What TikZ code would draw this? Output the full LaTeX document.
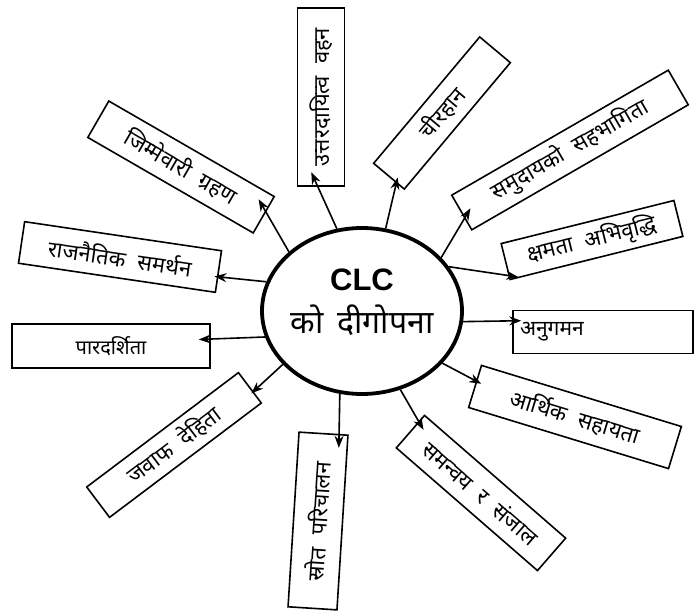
\documentclass[tikz,border=0pt]{standalone}
\usepackage{fontspec}
\setmainfont{Liberation Sans}
\newfontfamily\dev[Script=Devanagari]{Noto Sans}
\usetikzlibrary{arrows.meta,shapes.geometric}
\newcommand\wgap{\hspace{12pt}}
\begin{document}
\begin{tikzpicture}[x=1pt,y=1pt,
  lbl/.style={draw, line width=1.6pt, inner sep=0pt, font=\dev\fontsize{22}{22}\selectfont},
  arr/.style={-{Stealth[length=12pt,width=9pt]}, line width=1.6pt},
  hub/.style={draw, ellipse, line width=3.8pt, minimum width=200pt, minimum height=166pt, inner sep=0pt}
]
\useasboundingbox (0,0) rectangle (695,-615);
\fill[white] (0,0) rectangle (695,-615);

\node[hub] (e) at (362,-311) {};
\node[font=\bfseries\fontsize{31}{31}\selectfont] (t1) at (362,-280) {CLC};
\node[font=\dev\fontsize{32}{32}\selectfont] (t2) at (362,-320) {को\hspace{6pt} दीगोपना};

\node[lbl, minimum width=178pt, minimum height=47pt, rotate=90] (b1) at (321,-97) {उत्तरदायित्व\wgap वहन};
\node[lbl, minimum width=165pt, minimum height=40pt, rotate=50] (b2) at (442,-113) {चीरहान};
\node[lbl, minimum width=250pt, minimum height=40pt, rotate=30] (b3) at (570,-150) {समुदायको\wgap सहभागिता};
\node[lbl, minimum width=178pt, minimum height=37pt, rotate=14] (b4) at (592,-240) {क्षमता\wgap अभिवृद्धि};
\node[lbl, font=\dev\fontsize{21}{21}\selectfont, minimum height=43pt, text width=166pt, align=left, inner xsep=7pt] (b5) at (603,-332) {अनुगमन};
\node[lbl, minimum width=209pt, minimum height=44pt, rotate=-17] (b6) at (575,-417) {आर्थिक\wgap सहायता};
\node[lbl, minimum width=187pt, minimum height=43pt, rotate=-41] (b7) at (481,-493) {समन्वय\wgap र\wgap संजाल};
\node[lbl, minimum width=175pt, minimum height=49pt, rotate=86.4] (b8) at (318,-521) {स्रोत\wgap परिचालन};
\node[lbl, minimum width=190pt, minimum height=38pt, rotate=37] (b9) at (174,-445) {जवाफ\wgap देहिता};
\node[lbl, font=\dev\fontsize{20}{20}\selectfont, minimum width=198pt, minimum height=44pt] (b10) at (111,-346) {पारदर्शिता};
\node[lbl, minimum width=199pt, minimum height=42pt, rotate=-8.4] (b11) at (120,-257) {राजनैतिक\wgap समर्थन};
\node[lbl, minimum width=191pt, minimum height=42pt, rotate=-30] (b12) at (181,-167) {जिम्मेवारी\wgap ग्रहण};

\draw[arr, shorten >=-16pt] (e.107) -- (b1.178.7);
\draw[arr, shorten >=-6pt] (e.74) -- (b2.187);
\draw[arr, shorten >=-12pt] (e.34) -- (b3.183);
\draw[arr, shorten >=-10pt] (e.27) -- (b4.189);
\draw[arr, shorten >=-9pt] (e.-6.3) -- (b5.173.7);
\draw[arr, shorten >=-6pt] (e.-33.7) -- (b6.177);
\draw[arr, shorten >=-10pt] (e.-64.6) -- (b7.172.6);
\draw[arr, shorten >=-14pt] (e.-105.2) -- (b8.-10.7);
\draw[arr, shorten >=-3pt] (e.214.5) -- (b9.-3.2);
\draw[arr, shorten >=-12pt] (e.195.9) -- (b10.4.6);
\draw[arr, shorten >=-4pt] (e.163.4) -- (b11.-3.6);
\draw[arr, shorten >=-15pt] (e.141.3) -- (b12.2.6);
\end{tikzpicture}
\end{document}
